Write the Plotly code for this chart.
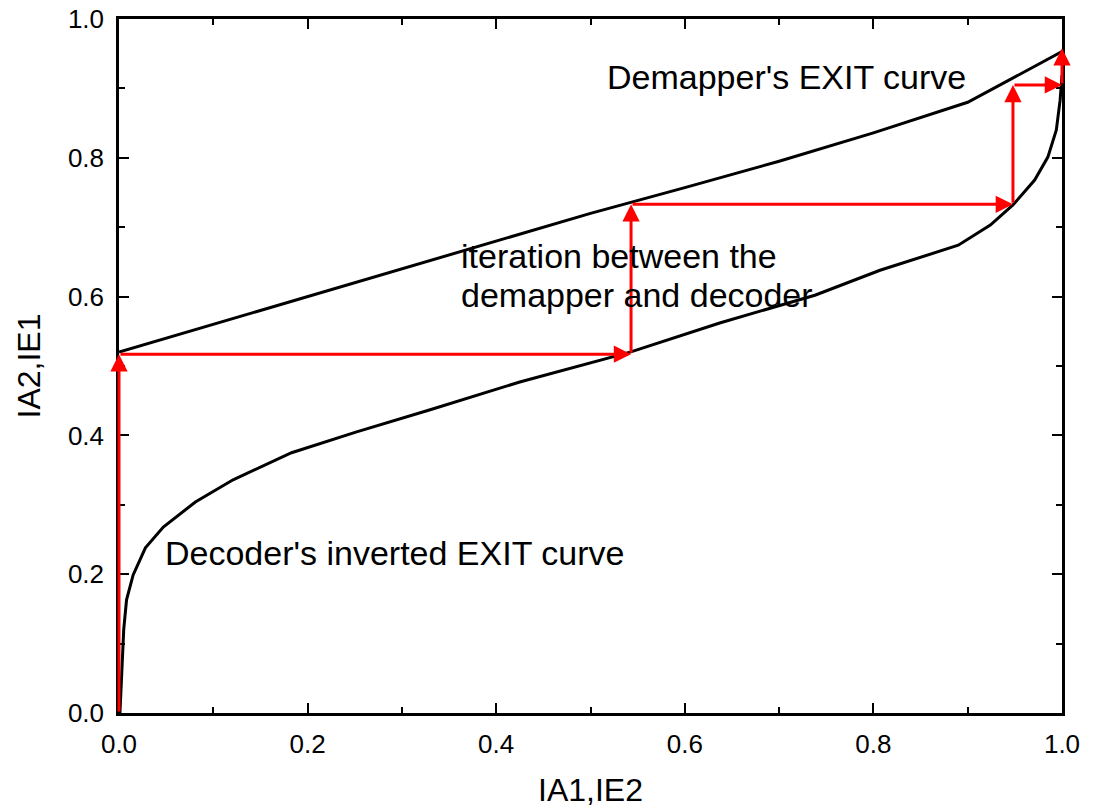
import plotly.graph_objects as go

# Demapper's EXIT curve
demap_x = [0.0, 0.1, 0.2, 0.3, 0.4, 0.5, 0.6, 0.7, 0.8, 0.9, 1.0]
demap_y = [0.52, 0.56, 0.60, 0.641, 0.68, 0.72, 0.757, 0.795, 0.836, 0.88, 0.953]

# Decoder's inverted EXIT curve
dec_x = [0.001, 0.002, 0.003, 0.005, 0.008, 0.015, 0.028, 0.047, 0.081, 0.121, 0.183,
         0.252, 0.33, 0.425, 0.542, 0.637, 0.738, 0.807, 0.89, 0.924, 0.948, 0.971,
         0.985, 0.994, 0.998, 1.0]
dec_y = [0.0, 0.033, 0.076, 0.12, 0.163, 0.199, 0.238, 0.268, 0.304, 0.336, 0.375,
         0.405, 0.437, 0.477, 0.52, 0.562, 0.602, 0.638, 0.674, 0.703, 0.732, 0.768,
         0.801, 0.84, 0.883, 0.919]

# Iteration trajectory (arrow path)
traj_x = [0.0, 0.0, 0.543, 0.543, 0.948, 0.948, 1.0, 1.0]
traj_y = [0.0, 0.517, 0.517, 0.733, 0.733, 0.905, 0.905, 0.958]

# Text labels
label_text = ["Demapper's EXIT curve", "iteration between the", "demapper and decoder",
              "Decoder's inverted EXIT curve"]
label_x = [0.515, 0.361, 0.361, 0.047]
label_y = [0.916, 0.659, 0.602, 0.2305]

tick_vals = [0.0, 0.2, 0.4, 0.6, 0.8, 1.0]
tick_text = ["0.0", "0.2", "0.4", "0.6", "0.8", "1.0"]

FONT = "Liberation Sans, Arial, sans-serif"

fig = go.Figure()
fig.add_trace(go.Scatter(x=demap_x, y=demap_y, mode="lines",
                         line=dict(color="black", width=3), showlegend=False))
fig.add_trace(go.Scatter(x=dec_x, y=dec_y, mode="lines",
                         line=dict(color="black", width=3),
                         showlegend=False))

annotations = []
for i in range(len(traj_x) - 1):
    annotations.append(dict(
        x=traj_x[i + 1], y=traj_y[i + 1], ax=traj_x[i], ay=traj_y[i],
        xref="x", yref="y", axref="x", ayref="y",
        showarrow=True, arrowhead=2, arrowsize=1.15, arrowwidth=3,
        arrowcolor="#ff0000", standoff=0, startstandoff=0, text=""))

for t, x, y in zip(label_text, label_x, label_y):
    annotations.append(dict(x=x, y=y, xref="x", yref="y", text=t, showarrow=False,
                            xanchor="left", yanchor="middle",
                            font=dict(family=FONT, size=34, color="black")))

axis_common = dict(
    range=[0, 1], tickmode="array", tickvals=tick_vals, ticktext=tick_text,
    ticks="inside", ticklen=10, tickwidth=2, tickcolor="black",
    showline=True, linewidth=2.5, linecolor="black", mirror="allticks",
    showgrid=False, zeroline=False, automargin=False, ticklabeloverflow="allow",
    tickfont=dict(family=FONT, size=26, color="black"),
    minor=dict(ticks="inside", ticklen=6, tickwidth=2, tickcolor="black", dtick=0.1,
               tick0=0, showgrid=False),
)

fig.update_layout(
    width=1080, height=800,
    margin=dict(l=111, r=26, t=11, b=95),
    paper_bgcolor="white", plot_bgcolor="white",
    font=dict(family=FONT, color="black"),
    annotations=annotations,
    xaxis=dict(**axis_common, title=dict(text="IA1,IE2", font=dict(family=FONT, size=32), standoff=35),
               ticklabelstandoff=6),
    yaxis=dict(**axis_common, title=dict(text="IA2,IE1", font=dict(family=FONT, size=32), standoff=18),
               ticklabelstandoff=7),
)

fig.write_html("out.html")
